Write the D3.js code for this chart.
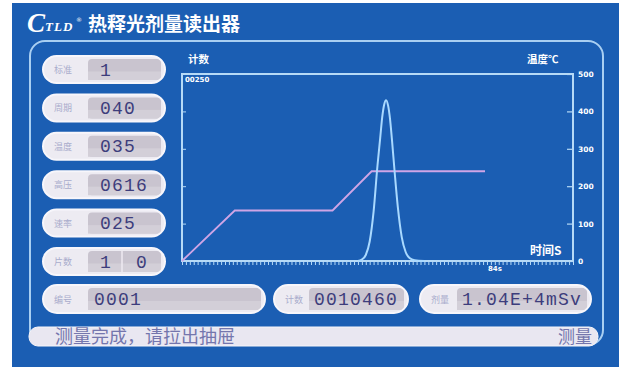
<!DOCTYPE html>
<html>
<head>
<meta charset="utf-8">
<script src="https://cdn.jsdelivr.net/npm/d3@7"></script>
<style>
  html, body { margin: 0; padding: 0; background: #ffffff; }
  svg { display: block; }
</style>
</head>
<body>
<svg id="screen" width="625" height="367"></svg>
<script>
// Parameter readouts on the left of the reader's screen
const paramLabels = ["标准", "周期", "温度", "高压", "速率", "片数"];
const paramValues = ["1", "040", "035", "0616", "025", "1 0"];

// Readouts along the bottom
const footLabels = ["编号", "计数", "剂量"];
const footValues = ["0001", "0010460", "1.04E+4mSv"];

// Heating profile: time (s) and temperature (°C)
const heatTime = [0, 13.5, 38.5, 48.5, 77.5];
const heatTemp = [0, 135, 135, 240, 240];

// Glow curve: time (s) and counts
const glowTime   = [45, 46, 47, 48, 49, 50, 50.7, 51.2, 51.7, 52.2, 52.7, 53.2, 53.7, 54.4, 55.2, 56.2, 57.2, 58.2, 59.5, 62];
const glowCounts = [0, 2, 8, 26, 66, 128, 165, 192, 209, 215, 208, 190, 162, 118, 72, 32, 12, 4, 1, 0];

// Temperature axis ticks
const tempTicks = [0, 100, 200, 300, 400, 500];
const countFullScale = "00250";

const svg = d3.select("#screen");
const BLUE = "#1b5eb3";
const LINE = "#b6daf7";
const CJK = "'Noto Sans CJK SC', 'Noto Sans', sans-serif";
const MONO = "'Liberation Mono', 'DejaVu Sans Mono', monospace";

// Screen background
svg.append("rect").attr("x", 12).attr("y", 3).attr("width", 607).attr("height", 364).attr("fill", BLUE);

// Title
const title = svg.append("g");
title.append("text").attr("x", 27).attr("y", 32)
  .attr("font-family", "'Liberation Serif', serif").attr("font-style", "italic").attr("font-weight", "bold")
  .attr("font-size", 27).attr("fill", "#ffffff").text("C");
title.append("text").attr("x", 45).attr("y", 31)
  .attr("font-family", "'Liberation Serif', serif").attr("font-style", "italic").attr("font-weight", "bold")
  .attr("font-size", 13).attr("letter-spacing", 1).attr("fill", "#ffffff").text("TLD");
title.append("text").attr("x", 76).attr("y", 22)
  .attr("font-family", "'DejaVu Sans', sans-serif").attr("font-size", 6).attr("fill", "#ffffff").text("®");
title.append("text").attr("x", 88).attr("y", 31)
  .attr("font-family", CJK).attr("font-weight", "bold").attr("font-size", 19)
  .attr("fill", "#ffffff").text("热释光剂量读出器");

// Inner panel outline
svg.append("rect").attr("x", 30).attr("y", 41).attr("width", 573).attr("height", 304)
  .attr("rx", 15).attr("fill", "none").attr("stroke", "#a9cff2").attr("stroke-width", 2);

// Status bar
svg.append("rect").attr("x", 29).attr("y", 327).attr("width", 569).attr("height", 19)
  .attr("rx", 9).attr("fill", "#e9e7f1").attr("stroke", "#f6f5fa").attr("stroke-width", 1);
svg.append("text").attr("x", 55).attr("y", 343)
  .attr("font-family", CJK).attr("font-size", 18).attr("fill", "#7476ad").text("测量完成，请拉出抽屉");
svg.append("text").attr("x", 592).attr("y", 343).attr("text-anchor", "end")
  .attr("font-family", CJK).attr("font-size", 17).attr("fill", "#7476ad").text("测量");

// Pill-shaped readout: light label cell + grey value cell
function pill(g, x, y, w, h, labelW, textPad, label, value, split) {
  const clipId = "clip" + Math.round(x) + "_" + Math.round(y);
  g.append("clipPath").attr("id", clipId)
    .append("rect").attr("x", x).attr("y", y).attr("width", w).attr("height", h).attr("rx", h / 2);
  const inner = g.append("g").attr("clip-path", `url(#${clipId})`);
  inner.append("rect").attr("x", x).attr("y", y).attr("width", w).attr("height", h).attr("fill", "#edebf2");
  inner.append("rect").attr("x", x + labelW).attr("y", y + 3).attr("width", w - labelW - 4).attr("height", h - 6)
    .attr("rx", 4).attr("fill", "#c9c4cf");
  inner.append("rect").attr("x", x + labelW).attr("y", y + h / 2 + 2).attr("width", w - labelW - 4).attr("height", h / 2 - 5)
    .attr("fill", "#d3cfd8");
  g.append("rect").attr("x", x).attr("y", y).attr("width", w).attr("height", h).attr("rx", h / 2)
    .attr("fill", "none").attr("stroke", "#f7f6fb").attr("stroke-width", 2);
  g.append("text").attr("x", x + 11).attr("y", y + h / 2 + 3.5)
    .attr("font-family", CJK).attr("font-size", 9).attr("fill", "#a9abcc").text(label);
  if (split) {
    g.append("line").attr("x1", x + 79).attr("x2", x + 79).attr("y1", y + 3).attr("y2", y + h - 3)
      .attr("stroke", "#eeeaf2").attr("stroke-width", 1.5);
  }
  g.append("text").attr("x", x + labelW + textPad).attr("y", y + h / 2 + 6)
    .attr("font-family", MONO).attr("font-size", 18).attr("letter-spacing", 1.2)
    .attr("fill", "#3d3d7c").style("white-space", "pre")
    .text(split ? value.replace(" ", "  ") : value);
}

const left = svg.append("g");
paramLabels.forEach((lab, i) => {
  pill(left, 43, 56 + i * 38.4, 122, 27, 45, 12, lab, paramValues[i], paramValues[i].includes(" "));
});

const foot = svg.append("g");
const footBoxes = [[43, 222, 45, 6], [274, 134, 35, 5], [420, 171, 37, 5]];
footLabels.forEach((lab, i) => {
  const [x, w, lw, pad] = footBoxes[i];
  pill(foot, x, 285, w, 28, lw, pad, lab, footValues[i], false);
});

// Plot area
const plot = { left: 182, right: 573, top: 74, bottom: 261 };
const x = d3.scaleLinear().domain([0, 100]).range([plot.left, plot.right]);
const yTemp = d3.scaleLinear().domain([0, 500]).range([plot.bottom, plot.top]);
const yCount = d3.scaleLinear().domain([0, 250]).range([plot.bottom, plot.top]);

const chart = svg.append("g");

// Minor ticks along the time axis
chart.append("g").attr("transform", `translate(0,${plot.bottom + 1})`)
  .call(d3.axisBottom(x).tickValues(d3.range(0, 101, 1)).tickSize(3).tickFormat(""))
  .call(g => g.select(".domain").remove())
  .call(g => g.selectAll("line").attr("stroke", LINE).attr("stroke-width", 1));

// Count axis ticks (inside)
chart.append("g").attr("transform", `translate(${plot.left},0)`)
  .call(d3.axisRight(yCount).tickValues([50, 100, 150, 200]).tickSize(4).tickFormat(""))
  .call(g => g.select(".domain").remove())
  .call(g => g.selectAll("line").attr("stroke", LINE));

// Temperature axis on the right
chart.append("g").attr("transform", `translate(${plot.right},0)`)
  .call(d3.axisLeft(yTemp).tickValues(tempTicks).tickSize(6).tickFormat(""))
  .call(g => g.select(".domain").remove())
  .call(g => g.selectAll("line").attr("stroke", LINE).attr("stroke-width", 1.2));
chart.append("g").attr("transform", `translate(${plot.right},0)`)
  .call(d3.axisRight(yTemp).tickValues(tempTicks).tickSize(0).tickPadding(5))
  .call(g => g.select(".domain").remove())
  .call(g => g.selectAll("text").attr("fill", "#ffffff").attr("font-family", "'DejaVu Sans', sans-serif")
    .attr("font-weight", "bold").attr("font-size", 7.5));

// Frame
chart.append("path")
  .attr("d", `M${plot.left},${plot.bottom}V${plot.top}H${plot.right}V${plot.bottom}Z`)
  .attr("fill", "none").attr("stroke", LINE).attr("stroke-width", 2);

// Heating profile
const heatLine = d3.line().x(d => x(d[0])).y(d => yTemp(d[1]));
chart.append("path").datum(heatTime.map((t, i) => [t, heatTemp[i]]))
  .attr("d", heatLine).attr("fill", "none").attr("stroke", "#cfa5e6").attr("stroke-width", 1.8);

// Glow curve
const glowLine = d3.line().x(d => x(d[0])).y(d => yCount(d[1])).curve(d3.curveMonotoneX);
chart.append("path").datum(glowTime.map((t, i) => [t, glowCounts[i]]))
  .attr("d", glowLine).attr("fill", "none").attr("stroke", "#a9d9ff").attr("stroke-width", 2);

// Axis captions
const cap = (tx, ty, s, size, anchor) => chart.append("text").attr("x", tx).attr("y", ty)
  .attr("text-anchor", anchor || "start").attr("font-family", CJK).attr("font-weight", "bold")
  .attr("font-size", size).attr("fill", "#ffffff").text(s);
cap(188, 63, "计数", 10.5);
cap(527, 63, "温度℃", 10.5);
cap(530, 255, "时间S", 12);

chart.append("text").attr("x", 185).attr("y", 82)
  .attr("font-family", "'DejaVu Sans', sans-serif").attr("font-weight", "bold").attr("font-size", 7)
  .attr("fill", "#ffffff").text(countFullScale);
chart.append("text").attr("x", 488).attr("y", 271)
  .attr("font-family", "'DejaVu Sans', sans-serif").attr("font-weight", "bold").attr("font-size", 7)
  .attr("fill", "#ffffff").text("84s");
</script>
</body>
</html>
